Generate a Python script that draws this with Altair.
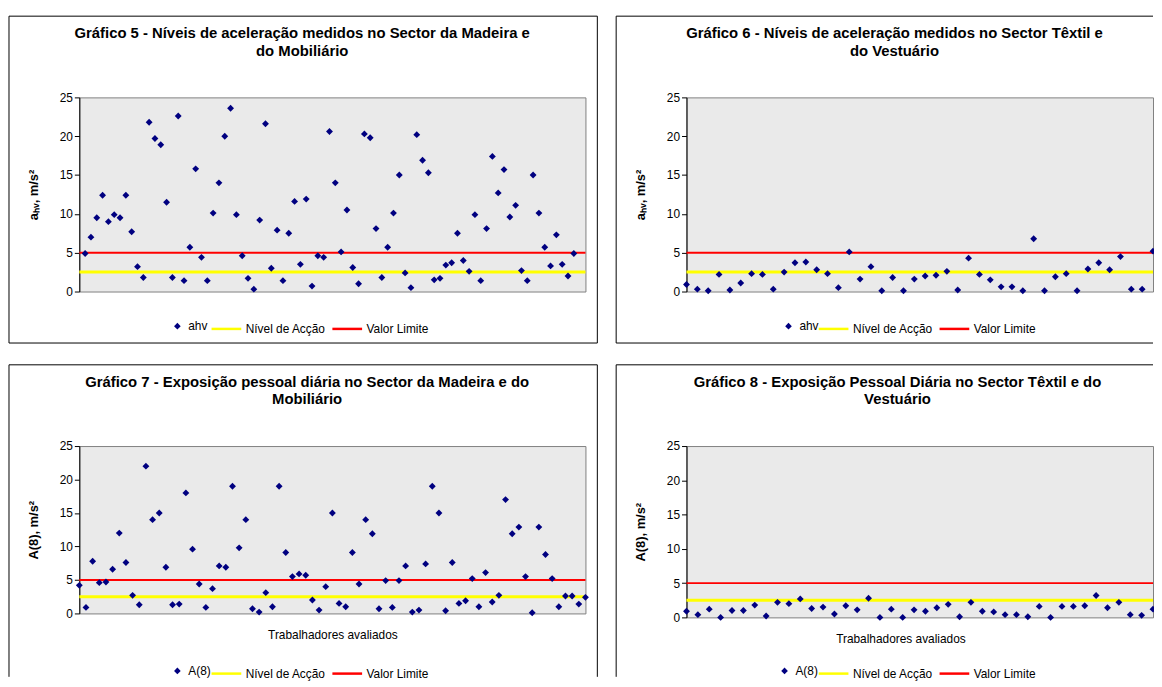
import altair as alt
import pandas as pd

FONTE = "Liberation Sans, Arial, Helvetica, sans-serif"
NAVY = "#000080"
AMARELO = "#FFFF00"
VERMELHO = "#FF0000"
FUNDO = "#EAEAEA"

# Gráfico 5 - ahv, Sector da Madeira e do Mobiliário
ahv_madeira = [4.9, 7.0, 9.5, 12.4, 9.0, 9.9, 9.5, 12.4, 7.7, 3.2,
               1.8, 21.8, 19.7, 18.9, 11.5, 1.8, 22.6, 1.4, 5.7, 15.8,
               4.4, 1.4, 10.1, 14.0, 20.0, 23.6, 9.9, 4.6, 1.7, 0.3,
               9.2, 21.6, 3.0, 7.9, 1.4, 7.5, 11.6, 3.5, 11.9, 0.7,
               4.6, 4.4, 20.6, 14.0, 5.1, 10.5, 3.1, 1.0, 20.3, 19.8,
               8.1, 1.8, 5.7, 10.1, 15.0, 2.4, 0.5, 20.2, 16.9, 15.3,
               1.5, 1.7, 3.4, 3.7, 7.5, 4.0, 2.6, 9.9, 1.4, 8.1,
               17.4, 12.7, 15.7, 9.6, 11.1, 2.7, 1.4, 15.0, 10.1, 5.7,
               3.3, 7.3, 3.5, 2.0, 4.9]
# Gráfico 6 - ahv, Sector Têxtil e do Vestuário
ahv_textil = [0.9, 0.3, 0.1, 2.2, 0.2, 1.1, 2.3, 2.2, 0.3, 2.5,
              3.7, 3.8, 2.8, 2.3, 0.5, 5.1, 1.6, 3.2, 0.1, 1.8,
              0.1, 1.6, 2.0, 2.1, 2.6, 0.2, 4.3, 2.2, 1.5, 0.6,
              0.6, 0.1, 6.8, 0.1, 1.9, 2.3, 0.1, 2.9, 3.7, 2.8,
              4.5, 0.3, 0.3, 5.2]
# Gráfico 7 - A(8), Sector da Madeira e do Mobiliário
a8_madeira = [4.2, 0.9, 7.8, 4.6, 4.7, 6.6, 12.0, 7.6, 2.7, 1.3,
              22.0, 14.0, 15.0, 6.9, 1.3, 1.4, 18.0, 9.6, 4.4, 0.9,
              3.7, 7.1, 6.9, 19.0, 9.8, 14.0, 0.7, 0.2, 3.1, 1.0,
              19.0, 9.1, 5.5, 5.9, 5.7, 2.0, 0.5, 4.0, 15.0, 1.5,
              1.0, 9.1, 4.4, 14.0, 11.9, 0.7, 4.9, 0.9, 4.9, 7.1,
              0.2, 0.5, 7.4, 19.0, 15.0, 0.4, 7.6, 1.5, 1.9, 5.2,
              1.0, 6.1, 1.7, 2.7, 17.0, 11.9, 12.9, 5.5, 0.1, 12.9,
              8.8, 5.2, 1.0, 2.6, 2.6, 1.4, 2.4]
# Gráfico 8 - A(8), Sector Têxtil e do Vestuário
a8_textil = [0.9, 0.4, 1.2, 0.0, 1.0, 1.0, 1.8, 0.2, 2.2, 2.0,
             2.7, 1.3, 1.5, 0.5, 1.7, 1.1, 2.8, 0.0, 1.2, 0.0,
             1.1, 0.9, 1.4, 1.9, 0.1, 2.2, 0.9, 0.8, 0.4, 0.4,
             0.1, 1.6, 0.0, 1.6, 1.6, 1.7, 3.2, 1.4, 2.2, 0.4,
             0.3, 1.2]

NIVEL_ACCAO = 2.5
VALOR_LIMITE = 5.0
y_ticks = [0, 5, 10, 15, 20, 25]
series_linhas = ["Nível de Acção", "Valor Limite"]

titulo5 = ["Gráfico 5 - Níveis de aceleração medidos no Sector da Madeira e", "do Mobiliário"]
titulo6 = ["Gráfico 6 - Níveis de aceleração medidos no Sector Têxtil e", "do Vestuário"]
titulo7 = ["Gráfico 7 - Exposição pessoal diária no Sector da Madeira e do", "Mobiliário"]
titulo8 = ["Gráfico 8 - Exposição Pessoal Diária no Sector Têxtil e do", "Vestuário"]
y_tit_ahv = "aₕᵥ, m/s²"
y_tit_a8 = "A(8), m/s²"
x_tit = "Trabalhadores avaliados"

um = pd.DataFrame({"k": [0]})


def linha(x1, x2, y1, y2):
    return alt.Chart(um).mark_rule(color="black", strokeWidth=1).encode(
        x=alt.value(x1), x2=alt.value(x2), y=alt.value(y1), y2=alt.value(y2))


def painel(valores, nome_serie, titulo, y_titulo, x_titulo, w, h, dom_x,
           lados, extra_dir, extra_inf, titulo_cx, titulo_y, leg_x_pt, leg_x_lin, leg_cy,
           x_tit_pos=None):
    df = pd.DataFrame({"n": list(range(1, len(valores) + 1)),
                       "valor": valores,
                       "serie": [nome_serie] * len(valores)})
    y_scale = alt.Scale(domain=[0, 25], nice=False)
    y_axis = alt.Axis(values=y_ticks, title=y_titulo, titleFont=FONTE, titleFontSize=13,
                      titleFontWeight="bold", titleColor="black", titlePadding=19,
                      labelFont=FONTE, labelFontSize=12, labelColor="black", labelPadding=2,
                      tickSize=5, tickColor="black", domainColor="black", grid=False)
    x_scale = alt.Scale(domain=dom_x, nice=False, zero=False)
    if x_titulo:
        extra = {}
        if x_tit_pos is not None:
            extra = {"titleX": x_tit_pos, "titleAlign": "center"}
        x_axis = alt.Axis(title=x_titulo, labels=False, ticks=False, domain=False, grid=False,
                          titleFont=FONTE, titleFontSize=12, titleFontWeight="normal",
                          titleColor="black", titlePadding=16, **extra)
    else:
        x_axis = None

    L, T, R, B = -71, -82, w + extra_dir, h + extra_inf
    camadas = []
    if "t" in lados:
        camadas.append(linha(L, R, T, T))
    if "l" in lados:
        camadas.append(linha(L, L, T, B))
    if "b" in lados:
        camadas.append(linha(L, R, B, B))
    if "r" in lados:
        camadas.append(linha(R, R, T, B))

    tit = alt.Chart(um).mark_text(text=titulo, font=FONTE, fontSize=15, fontWeight="bold",
                                  align="center", baseline="alphabetic", lineHeight=18,
                                  color="black").encode(
        x=alt.value(titulo_cx), y=alt.value(titulo_y))

    esc_linhas = alt.Scale(domain=series_linhas, range=[AMARELO, VERMELHO])
    leg_lin = alt.Legend(title=None, orient="none", direction="horizontal",
                         legendX=leg_x_lin, legendY=leg_cy - 15,
                         symbolType="stroke", symbolSize=900, symbolStrokeWidth=2.5,
                         labelFont=FONTE, labelFontSize=12, labelColor="black",
                         labelOffset=3, columnPadding=1, padding=0)
    leg_pt = alt.Legend(title=None, orient="none", legendX=leg_x_pt, legendY=leg_cy - 7,
                        symbolType="diamond", symbolSize=45,
                        labelFont=FONTE, labelFontSize=12, labelColor="black",
                        labelOffset=5, padding=0)

    r1 = alt.Chart(pd.DataFrame({"serie": [series_linhas[0]], "valor": [NIVEL_ACCAO]})).mark_rule(
        strokeWidth=3).encode(
        y=alt.Y("valor:Q", scale=y_scale, axis=y_axis),
        stroke=alt.Stroke("serie:N", scale=esc_linhas, legend=leg_lin))
    r2 = alt.Chart(pd.DataFrame({"serie": [series_linhas[1]], "valor": [VALOR_LIMITE]})).mark_rule(
        strokeWidth=2).encode(
        y=alt.Y("valor:Q", scale=y_scale, axis=y_axis),
        stroke=alt.Stroke("serie:N", scale=esc_linhas, legend=leg_lin))
    pts = alt.Chart(df).mark_point(shape="diamond", filled=True, size=48, opacity=1).encode(
        x=alt.X("n:Q", scale=x_scale, axis=x_axis),
        y=alt.Y("valor:Q", scale=y_scale, axis=y_axis),
        color=alt.Color("serie:N", scale=alt.Scale(domain=[nome_serie], range=[NAVY]),
                        legend=leg_pt))
    camadas += [tit, r1, r2, pts]
    return alt.layer(*camadas).properties(width=w, height=h)


p5 = painel(ahv_madeira, "ahv", titulo5, y_tit_ahv, None, 511, 196, [0, 87],
            "tlbr", 12, 52, 225, -60, 93, 132, 232)
p6 = painel(ahv_textil, "ahv", titulo6, y_tit_ahv, None, 471, 196, [1, 44],
            "tlb", 0, 52, 210, -60, 97, 132, 232)
p7 = painel(a8_madeira, "A(8)", titulo7, y_tit_a8, x_tit, 511, 169, [1, 77],
            "tlr", 12, 64, 230, -60, 93, 132, 228)
p8 = painel(a8_textil, "A(8)", titulo8, y_tit_a8, x_tit, 471, 173, [1, 42],
            "tl", 0, 60, 213, -60, 93, 132, 228, x_tit_pos=216)

linha1 = alt.hconcat(p5, p6, spacing=17).resolve_scale(
    color="independent", stroke="independent").resolve_legend(color="independent", stroke="independent")
linha2 = alt.hconcat(p7, p8, spacing=17).resolve_scale(
    color="independent", stroke="independent").resolve_legend(color="independent", stroke="independent")

chart = alt.vconcat(linha1, linha2, spacing=20).resolve_scale(
    color="independent", stroke="independent").resolve_legend(
    color="independent", stroke="independent").properties(
    padding={"left": 0, "top": 4, "right": -3, "bottom": 0},
    background="white").configure_view(fill=FUNDO, stroke="#808080", strokeWidth=1)

chart.save("out.html", embed_options={"renderer": "svg", "actions": False})
